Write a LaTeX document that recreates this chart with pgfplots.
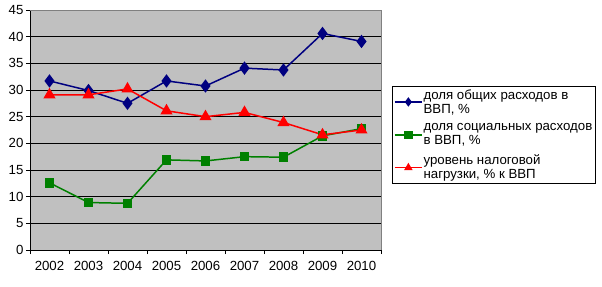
\documentclass[border=0pt]{standalone}
\usepackage{pgfplots}
\pgfplotsset{compat=1.18}
\usepackage{fontspec}
\setmainfont{Liberation Sans}
\definecolor{cnavy}{HTML}{000080}
\definecolor{cgreen}{HTML}{008000}
\definecolor{cred}{HTML}{FF0000}
\definecolor{cbg}{HTML}{C0C0C0}
\begin{document}
\begin{tikzpicture}
\useasboundingbox (-30bp,-37bp) rectangle (572bp,250bp);
\begin{axis}[
  at={(0,0)}, anchor=south west,
  scale only axis, width=351bp, height=240bp,
  xmin=-0.5, xmax=8.5, ymin=0, ymax=45,
  axis background/.style={fill=cbg},
  axis x line*=bottom, axis y line*=left,
  axis line style={black, line width=0.8pt, -},
  xtick={0,...,8},
  xticklabels={2002,2003,2004,2005,2006,2007,2008,2009,2010},
  major x tick style={draw=none},
  minor xtick={-0.5,0.5,...,8.5},
  minor x tick style={black, line width=0.8pt},
  minor tick length=4bp,
  ytick={0,5,...,45},
  major tick length=4bp,
  tick align=outside,
  y tick style={black, line width=0.8pt},
  ymajorgrids, grid style={black, line width=0.8pt},
  tick label style={font=\fontsize{13.3}{15}\selectfont},
  yticklabel style={xshift=1bp},
  /pgf/number format/assume math mode=true,
  xticklabel style={yshift=-4bp},
  legend style={at={(1.031,0.683)}, anchor=north west, draw=black, line width=0.6pt,
    font=\fontsize{13.3}{14}\selectfont, inner xsep=2bp, inner ysep=2bp,
    row sep=7bp, nodes={align=left, inner sep=1bp}},
  legend cell align=left,
  legend image post style={line width=1.5pt},
  legend image code/.code={\draw[#1] (0cm,0cm) -- (0.95cm,0cm); \draw[#1, mark repeat=2, mark phase=2, mark size=3.5bp] plot coordinates {(0cm,0cm)(0.475cm,0cm)(0.95cm,0cm)};},
  after end axis/.code={\draw[gray, line width=0.8pt] (rel axis cs:0,1) -- (rel axis cs:1,1) -- (rel axis cs:1,0);},
]
\addplot[cnavy, line width=1.5pt, mark=diamond*, mark size=5.5bp, mark options={solid}] coordinates {
(0,31.7)(1,29.9)(2,27.5)(3,31.7)(4,30.75)(5,34.1)(6,33.75)(7,40.6)(8,39.1)};
\addlegendentry{доля общих расходов в\\ВВП, \%}
\addplot[cgreen, line width=1.5pt, mark=square*, mark size=4bp] coordinates {
(0,12.6)(1,8.9)(2,8.75)(3,16.9)(4,16.7)(5,17.5)(6,17.4)(7,21.4)(8,22.75)};
\addlegendentry{доля социальных расходов\\в ВВП, \%}
\addplot[cred, line width=1.5pt, mark=triangle*, mark size=5.5bp] coordinates {
(0,29.1)(1,29.1)(2,30.2)(3,26.1)(4,25.0)(5,25.8)(6,23.9)(7,21.6)(8,22.5)};
\addlegendentry{уровень налоговой\\нагрузки, \% к ВВП}
\end{axis}
\end{tikzpicture}
\end{document}
